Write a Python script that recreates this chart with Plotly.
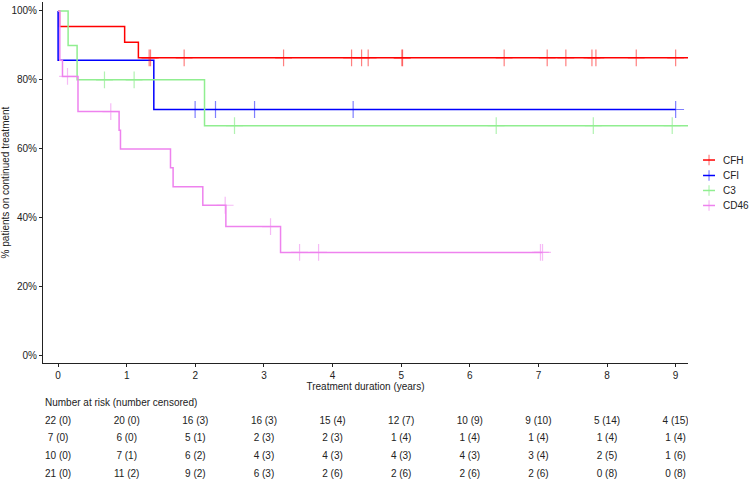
import plotly.graph_objects as go

# groups and colours
groups = ["CFH", "CFI", "C3", "CD46"]
colors = ["#FF0000", "#0000FF", "#90EE90", "#EE82EE"]
censor_colors = ["rgba(255,0,0,0.5)", "rgba(0,0,255,0.5)",
                 "rgba(144,238,144,0.7)", "rgba(238,130,238,0.55)"]

# step curves: times where the curve drops, and the level after the drop
cfh_t = [0, 0.02, 0.97, 1.17, 9.3]
cfh_s = [1.0, 0.955, 0.909, 0.864, 0.864]
cfh_cens = [1.327, 1.347, 1.837, 3.286, 4.277, 4.423, 4.519, 5.01, 5.02,
            6.501, 7.128, 7.40, 7.78, 7.838, 8.426, 9.0]

cfi_t = [0, 0, 1.395, 9.0]
cfi_s = [1.0, 0.857, 0.714, 0.714]
cfi_cens = [1.997, 2.294, 2.863, 4.30, 9.0]

c3_t = [0, 0.146, 0.277, 2.134, 9.3]
c3_s = [1.0, 0.90, 0.80, 0.667, 0.667]
c3_cens = [0.676, 1.108, 2.571, 6.385, 7.80, 8.95]

cd46_t = [0, 0.025, 0.064, 0.29, 0.889, 0.909, 1.638, 1.676, 2.109, 2.445, 3.242, 7.06]
cd46_s = [1.0, 0.857, 0.810, 0.708, 0.654, 0.599, 0.545, 0.490, 0.436, 0.374, 0.299, 0.299]
cd46_cens = [0.137, 0.768, 2.435, 3.096, 3.519, 3.796, 7.03, 7.06]

# number at risk table
risk_times = [0, 1, 2, 3, 4, 5, 6, 7, 8, 9]
cfh_risk = ["22 (0)", "20 (0)", "16 (3)", "16 (3)", "15 (4)", "12 (7)", "10 (9)", "9 (10)", "5 (14)", "4 (15)"]
cfi_risk = ["7 (0)", "6 (0)", "5 (1)", "2 (3)", "2 (3)", "1 (4)", "1 (4)", "1 (4)", "1 (4)", "1 (4)"]
c3_risk = ["10 (0)", "7 (1)", "6 (2)", "4 (3)", "4 (3)", "4 (3)", "4 (3)", "3 (4)", "2 (5)", "1 (6)"]
cd46_risk = ["21 (0)", "11 (2)", "9 (2)", "6 (3)", "2 (6)", "2 (6)", "2 (6)", "2 (6)", "0 (8)", "0 (8)"]

curves = [(cfh_t, cfh_s, cfh_cens), (cfi_t, cfi_s, cfi_cens),
          (c3_t, c3_s, c3_cens), (cd46_t, cd46_s, cd46_cens)]
risks = [cfh_risk, cfi_risk, c3_risk, cd46_risk]


def level_at(ts, ss, x):
    val = ss[0]
    for t, s in zip(ts, ss):
        if t <= x:
            val = s
    return val


FONT = "Liberation Sans, Arial, sans-serif"
TXT = "#222"
fig = go.Figure()

for i, (ts, ss, cens) in enumerate(curves):
    fig.add_trace(go.Scatter(
        x=ts, y=ss, mode="lines", line=dict(color=colors[i], width=1.5, shape="hv"),
        name=groups[i], showlegend=False, hoverinfo="skip"))

for i, (ts, ss, cens) in enumerate(curves):
    fig.add_trace(go.Scatter(
        x=cens, y=[level_at(ts, ss, c) for c in cens], mode="markers",
        showlegend=False, hoverinfo="skip",
        marker=dict(symbol="cross-thin", size=12, color=censor_colors[i],
                    line=dict(color=censor_colors[i], width=1.2))))

# risk table rows (bottom panel)
rows = [4, 3, 2, 1]
for i, r in enumerate(risks):
    fig.add_trace(go.Scatter(
        x=risk_times, y=[rows[i]] * len(risk_times), mode="text", text=r,
        textfont=dict(family=FONT, size=10, color=TXT),
        xaxis="x2", yaxis="y2", showlegend=False, hoverinfo="skip"))
    fig.add_trace(go.Scatter(
        x=[-0.37], y=[rows[i]], mode="markers", cliponaxis=False,
        marker=dict(color=colors[i], size=8),
        xaxis="x2", yaxis="y2", showlegend=False, hoverinfo="skip"))

fig.add_annotation(text="Number at risk (number censored)", xref="paper", yref="y2",
                   x=0, y=5.05, xanchor="left", showarrow=False,
                   font=dict(family=FONT, size=10, color=TXT))

# hand-drawn legend at the right (short line with a cross, then the label)
leg_y = [0.6701, 0.6378, 0.6065, 0.5752]
for i, g in enumerate(groups):
    y0 = leg_y[i]
    fig.add_shape(type="line", xref="paper", yref="paper", x0=1.0233, x1=1.0419,
                  y0=y0, y1=y0, line=dict(color=colors[i], width=1.5))
    fig.add_shape(type="line", xref="paper", yref="paper", x0=1.0326, x1=1.0326,
                  y0=y0 - 0.011, y1=y0 + 0.011, line=dict(color=censor_colors[i], width=1.2))
    fig.add_annotation(text=g, xref="paper", yref="paper", x=1.0512, y=y0,
                       xanchor="left", yanchor="middle", showarrow=False,
                       font=dict(family=FONT, size=10, color=TXT))

fig.update_layout(
    width=750, height=481,
    margin=dict(l=43, r=62, t=2, b=0, autoexpand=False),
    paper_bgcolor="white", plot_bgcolor="white",
    font=dict(family=FONT, size=10, color=TXT),
    showlegend=False,
    xaxis=dict(domain=[0, 1], range=[-0.22, 9.18], tickvals=list(range(10)),
               showline=True, linecolor=TXT, linewidth=1, ticks="outside",
               ticklen=3, tickcolor=TXT, showgrid=False, zeroline=False,
               automargin=False, anchor="y",
               title=dict(text="Treatment duration (years)", standoff=2,
                          font=dict(size=10))),
    yaxis=dict(domain=[0.2463, 1], range=[-0.022, 1.026],
               tickvals=[0, 0.2, 0.4, 0.6, 0.8, 1.0], tickformat=".0%",
               ticklabeloverflow="allow",
               showline=True, linecolor=TXT, linewidth=1, ticks="outside",
               ticklen=3, tickcolor=TXT, showgrid=False, zeroline=False,
               automargin=False,
               title=dict(text="% patients on continued treatment", standoff=6,
                          font=dict(size=10))),
    xaxis2=dict(domain=[0, 1], range=[-0.22, 9.18], visible=False, anchor="y2"),
    yaxis2=dict(domain=[0, 0.2], range=[0.625, 6.016], visible=False, anchor="x2"),
)

# drop the default page margin so the 750x481 figure fills the window
fig.write_html("out.html", config={"displayModeBar": False}, post_script=(
    "document.body.style.margin='0';"
    "document.body.style.overflow='hidden';"
    "document.documentElement.style.overflow='hidden';"))
